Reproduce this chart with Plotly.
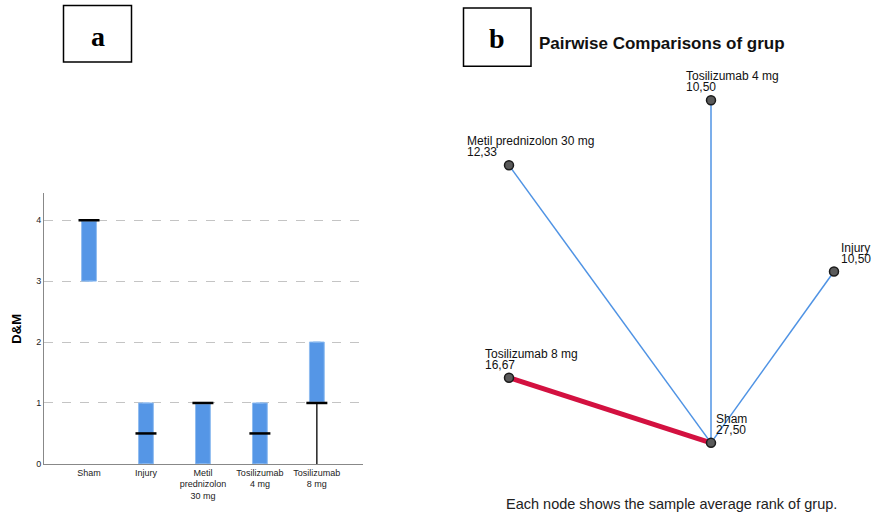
import plotly.graph_objects as go

W, H = 872, 515
H_LAYOUT = 521  # compensates the vertical squeeze seen in the rendered page

# ---------------- Panel a data (D&M boxplot) ----------------
groups_a = ["Sham", "Injury", "Metil<br>prednizolon<br>30 mg", "Tosilizumab<br>4 mg", "Tosilizumab<br>8 mg"]
q1 = [3, 0, 0, 0, 1]
median = [4, 0.5, 1, 0.5, 1]
q3 = [4, 1, 1, 1, 2]
lower_whisker = [3, 0, 0, 0, 0]
upper_whisker = [4, 1, 1, 1, 2]
y_ticks = [0, 1, 2, 3, 4]

# ---------------- Panel b data (pairwise comparisons) ----------------
node_names = ["Tosilizumab 4 mg", "Metil prednizolon 30 mg", "Injury", "Tosilizumab 8 mg", "Sham"]
node_ranks = ["10,50", "12,33", "10,50", "16,67", "27,50"]
# node layout (graph layout coordinates)
node_x = [711, 509, 834, 509, 711]
node_y = [100, 165, 271, 377, 442]
edges = [("Sham", "Tosilizumab 4 mg"), ("Sham", "Metil prednizolon 30 mg"),
         ("Sham", "Injury"), ("Sham", "Tosilizumab 8 mg")]
significant = [False, False, False, True]

# label offsets (pixels, style)
label_dx = [-27, -44, 5, -26, 3]

BLUE = "#5596e6"
EDGE_BLUE = "#4f93e4"
RED = "#d31140"
FONT = "Liberation Sans, Arial"


def px(x):
    return x / W


def py(y):
    return 1 - y / H


fig = go.Figure()

xs = list(range(len(groups_a)))
for i in xs:
    fig.add_trace(go.Box(
        x=[i], q1=[q1[i]], median=[median[i]], q3=[q3[i]],
        lowerfence=[q1[i]], upperfence=[q3[i]],
        width=0.26, fillcolor=BLUE, line=dict(color="#8fbcf0", width=1),
        boxpoints=False, showlegend=False, hoverinfo="skip",
        xaxis="x", yaxis="y"))

# whiskers outside the box
for i in xs:
    if lower_whisker[i] < q1[i]:
        fig.add_trace(go.Scatter(x=[i, i], y=[lower_whisker[i], q1[i]], mode="lines",
                                 line=dict(color="black", width=1.3), showlegend=False,
                                 hoverinfo="skip", xaxis="x", yaxis="y"))
    if upper_whisker[i] > q3[i]:
        fig.add_trace(go.Scatter(x=[i, i], y=[q3[i], upper_whisker[i]], mode="lines",
                                 line=dict(color="black", width=1.3), showlegend=False,
                                 hoverinfo="skip", xaxis="x", yaxis="y"))

# medians
fig.add_trace(go.Scatter(x=xs, y=median, mode="markers",
                         marker=dict(symbol="line-ew", size=15,
                                     line=dict(color="black", width=2.5)),
                         showlegend=False, hoverinfo="skip", xaxis="x", yaxis="y"))

# ---------------- Panel b ----------------
idx = {n: k for k, n in enumerate(node_names)}
for (a, b), sig in zip(edges, significant):
    ia, ib = idx[a], idx[b]
    fig.add_trace(go.Scatter(x=[node_x[ia], node_x[ib]], y=[node_y[ia], node_y[ib]],
                             mode="lines",
                             line=dict(color=RED if sig else EDGE_BLUE, width=5 if sig else 1.5),
                             showlegend=False, hoverinfo="skip", xaxis="x2", yaxis="y2"))

fig.add_trace(go.Scatter(x=node_x, y=node_y, mode="markers",
                         marker=dict(size=9, color="#5a5a5a", line=dict(color="#1a1a1a", width=1.5)),
                         showlegend=False, hoverinfo="skip", xaxis="x2", yaxis="y2"))

annotations = []
for k in range(len(node_names)):
    annotations.append(dict(x=node_x[k], y=node_y[k], xref="x2", yref="y2",
                            text=node_names[k], showarrow=False, xanchor="left",
                            yanchor="middle", xshift=label_dx[k], yshift=24,
                            font=dict(family=FONT, size=12, color="#111")))
    annotations.append(dict(x=node_x[k], y=node_y[k], xref="x2", yref="y2",
                            text=node_ranks[k], showarrow=False, xanchor="left",
                            yanchor="middle", xshift=label_dx[k], yshift=13,
                            font=dict(family=FONT, size=12, color="#111")))

# Titles / captions
annotations += [
    dict(x=px(537), y=py(43), xref="paper", yref="paper", text="<b>Pairwise Comparisons of grup</b>",
         showarrow=False, xanchor="left", yanchor="middle",
         font=dict(family=FONT, size=17, color="#111")),
    dict(x=px(671), y=py(503), xref="paper", yref="paper",
         text="Each node shows the sample average rank of grup.",
         showarrow=False, xanchor="center", yanchor="middle",
         font=dict(family=FONT, size=14.5, color="#222")),
    dict(x=px(97.5), y=py(36), xref="paper", yref="paper", text="<b>a</b>",
         showarrow=False, xanchor="center", yanchor="middle",
         font=dict(family="Liberation Serif, Times New Roman", size=28, color="black")),
    dict(x=px(497), y=py(38), xref="paper", yref="paper", text="<b>b</b>",
         showarrow=False, xanchor="center", yanchor="middle",
         font=dict(family="Liberation Serif, Times New Roman", size=28, color="black")),
    dict(x=px(17), y=py(328), xref="paper", yref="paper", text="<b>D&M</b>",
         showarrow=False, textangle=-90, xanchor="center", yanchor="middle",
         font=dict(family=FONT, size=13, color="black")),
]

shapes = [
    dict(type="rect", xref="paper", yref="paper", x0=px(63.5), x1=px(131.5), y0=py(5.5), y1=py(62),
         line=dict(color="black", width=1.5)),
    dict(type="rect", xref="paper", yref="paper", x0=px(463.5), x1=px(531), y0=py(8), y1=py(66),
         line=dict(color="black", width=1.5)),
]

fig.update_layout(
    width=W, height=H_LAYOUT, margin=dict(l=0, r=0, t=0, b=0),
    paper_bgcolor="white", plot_bgcolor="white",
    annotations=annotations, shapes=shapes,
    xaxis=dict(domain=[px(44), px(363)], range=[-0.79, 4.81], tickvals=xs, ticktext=groups_a,
               showgrid=False, zeroline=False, showline=True, linecolor="#888", linewidth=1,
               ticks="", tickfont=dict(family=FONT, size=9, color="#222"),
               anchor="y", fixedrange=True),
    yaxis=dict(domain=[py(463), py(193)], range=[0, 4.44], tickvals=y_ticks,
               showgrid=True, gridcolor="#c4c4c4", griddash="dash", gridwidth=1,
               zeroline=False, showline=True, linecolor="#888", linewidth=1,
               ticks="", tickfont=dict(family=FONT, size=9, color="#222"),
               anchor="x", fixedrange=True),
    xaxis2=dict(domain=[px(436), 1], range=[436, 872], visible=False, anchor="y2", fixedrange=True),
    yaxis2=dict(domain=[0, 1], range=[515, 0], visible=False, anchor="x2", fixedrange=True),
)

fig.write_html("out.html", config={"displayModeBar": False},
               post_script="document.body.style.margin='0';document.body.style.overflow='hidden';")
